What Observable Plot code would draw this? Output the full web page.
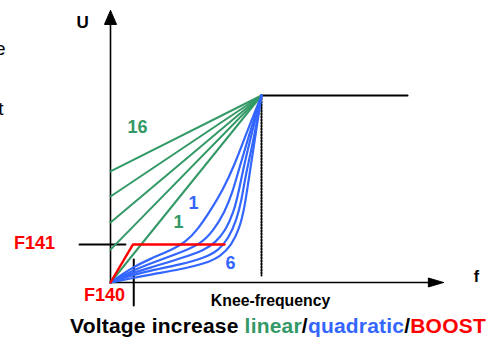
<!DOCTYPE html>
<html>
<head>
<meta charset="utf-8">
<script src="https://cdn.jsdelivr.net/npm/d3@7"></script>
<script src="https://cdn.jsdelivr.net/npm/@observablehq/plot@0.6"></script>
<style>
  html, body { margin: 0; padding: 0; background: #fff; }
  #wrap { position: relative; width: 488px; height: 340px; overflow: hidden; font-family: "Liberation Sans", Arial, sans-serif; }
  #title { position: absolute; left: 70px; top: 314px; font-weight: bold; font-size: 21px; letter-spacing: 0.2px; line-height: 24px; white-space: nowrap; color: #000; }
</style>
</head>
<body>
<div id="wrap"><div id="chart"></div>
<div id="title">Voltage increase <span style="color:#339966">linear</span>/<span style="color:#3366ff">quadratic</span>/<span style="color:#ff0000">BOOST</span></div>
</div>
<script>
// Knee point (frequency, voltage) in relative units
const knee = [100, 100];
const kneeLineEnd = 196.7;      // end of horizontal line after knee
const axisFMax = 220.5;         // x-axis arrow tip
const axisUMax = 145.5;         // y-axis arrow tip

// Linear characteristics: voltage at f = 0 (start of each line)
const linearStarts = [59.4, 46.0, 32.1, 17.6, 0];

// Quadratic characteristics: [f, U]
const quad1 = [[0,0],[13.2,7.5],[26.5,12.8],[39.7,17.1],[49.7,21.4],[58.3,28.9],[66.2,38.5],[74.2,49.2],[82.1,62.6],[90.7,81.3],[100,100]];
const quad2 = [[0,0],[13.2,5.9],[26.5,10.2],[43.0,15.0],[59.6,20.3],[68.2,27.8],[75.5,37.4],[80.8,48.1],[85.4,61.5],[92.7,81.3],[100,100]];
const quad3 = [[0,0],[13.2,4.8],[26.5,8.0],[46.4,12.8],[62.9,17.6],[69.5,21.4],[76.2,27.8],[81.5,37.4],[84.8,48.1],[88.1,61.5],[94.0,81.3],[100,100]];
const quad4 = [[0,0],[13.2,3.7],[26.5,6.4],[46.4,9.6],[62.9,13.4],[71.5,17.1],[78.1,23.5],[83.4,33.2],[86.8,43.9],[89.4,57.2],[95.4,78.6],[100,100]];
const quad5 = [[0,0],[13.2,2.1],[26.5,4.3],[46.4,7.0],[62.9,10.2],[72.8,13.9],[80.1,19.8],[85.4,28.9],[88.7,39.6],[91.4,54.5],[96.0,78.6],[100,100]];

// BOOST characteristic
const boostF = 14.8;      // F140 boost frequency
const boostU = 20.3;      // F141 boost voltage
const boostEndF = 75.5;

// Labels
const labels = [
  {f: -18.5, u: 139,  text: "U",  color: "#000", size: 17},
  {f: 242.4, u: 3.2,  text: "f",  color: "#000", size: 16},
  {f: 17.9,  u: 82.9, text: "16", color: "#339966", size: 18},
  {f: 45.0,  u: 32.1, text: "1",  color: "#339966", size: 18},
  {f: 55.0,  u: 42.2, text: "1",  color: "#3366ff", size: 18},
  {f: 79.5,  u: 10.2, text: "6",  color: "#3366ff", size: 18},
  {f: -50.3, u: 20.9, text: "F141", color: "#ff0000", size: 18},
  {f: -4.0,  u: -7.0, text: "F140", color: "#ff0000", size: 18},
  {f: 106,   u: -9.6, text: "Knee-frequency", color: "#000", size: 15.8}
];
const clipped = [
  {f: -69.5, u: 125, text: "e"},
  {f: -70.9, u: 93,  text: "t"}
];

const green = "#339966", blue = "#3366ff", red = "#ff0000";

const linearData = linearStarts.flatMap((u0, i) => [{f: 0, u: u0, id: i}, {f: knee[0], u: knee[1], id: i}]);
const quadData = [quad1, quad2, quad3, quad4, quad5].flatMap((c, i) => c.map(([f, u]) => ({f, u, id: i})));
const boostData = [[0, 0], [boostF, boostU], [boostEndF, boostU]];

// arrowheads built from axis extents
const yHead = [[0, axisUMax], [-4, axisUMax - 7.5], [4, axisUMax - 7.5], [0, axisUMax]];
const xHead = [[axisFMax, 0], [axisFMax - 10, 2.4], [axisFMax - 10, -2.4], [axisFMax, 0]];

const chart = Plot.plot({
  width: 488,
  height: 312,
  margin: 0,
  x: {domain: [0, 100], range: [110, 261], axis: null},
  y: {domain: [0, 100], range: [282, 95], axis: null},
  style: {fontFamily: "'Liberation Sans', Arial, sans-serif", background: "transparent"},
  marks: [
    // axes
    Plot.line([[0, 0], [0, axisUMax - 6]], {stroke: "#000", strokeWidth: 1.6}),
    Plot.line([[0, 0], [axisFMax - 8, 0]], {stroke: "#000", strokeWidth: 1.6}),
    Plot.line(yHead, {stroke: "#000", fill: "#000", strokeWidth: 1}),
    Plot.line(xHead, {stroke: "#000", fill: "#000", strokeWidth: 1}),
    // knee lines
    Plot.line([knee, [kneeLineEnd, knee[1]]], {stroke: "#000", strokeWidth: 2}),
    Plot.line([knee, [knee[0], 3.7]], {stroke: "#000", strokeWidth: 2, strokeDasharray: "1.2,1.8"}),
    // ticks for F141 / F140
    Plot.line([[-20.5, boostU], [9.9, boostU]], {stroke: "#000", strokeWidth: 2}),
    Plot.line([[boostF + 0.6, 12.3], [boostF + 0.6, -12.3]], {stroke: "#000", strokeWidth: 2}),
    // characteristics
    Plot.line(linearData, {x: "f", y: "u", z: "id", stroke: green, strokeWidth: 2}),
    Plot.line(quadData, {x: "f", y: "u", z: "id", stroke: blue, strokeWidth: 2.2, curve: "basis"}),
    Plot.line(boostData, {stroke: red, strokeWidth: 2.4}),
    // labels
    Plot.text(labels, {x: "f", y: "u", text: "text", fill: "color", fontSize: "size", fontWeight: "bold"}),
    Plot.text(clipped, {x: "f", y: "u", text: "text", fill: "#000", fontSize: 19, textAnchor: "end"})
  ]
});
document.getElementById("chart").appendChild(chart);
</script>
</body>
</html>
